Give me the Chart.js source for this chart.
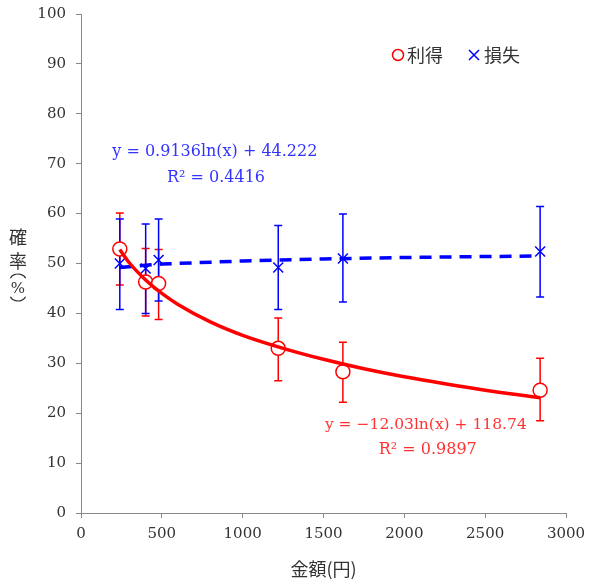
<!DOCTYPE html>
<html><head><meta charset="utf-8">
<script src="https://cdn.jsdelivr.net/npm/chart.js@4/dist/chart.umd.min.js"></script>
<style>html,body{margin:0;padding:0;background:#fff}#wrap{width:594px;height:583px}</style>
</head><body><div id="wrap"><canvas id="c" width="594" height="583"></canvas></div>
<script>
// ---- data ----
const amounts    = [240, 400, 480, 1220, 1620, 2840];
const gainRate   = [52.9, 46.3, 46.0, 33.0, 28.3, 24.6];
const gainUpper  = [60.1, 53.0, 52.8, 39.1, 34.2, 31.0];
const gainLower  = [45.7, 39.5, 38.8, 26.5, 22.2, 18.5];
const lossRate   = [50.0, 49.0, 50.7, 49.2, 51.0, 52.4];
const lossUpper  = [58.9, 57.9, 58.9, 57.6, 59.9, 61.4];
const lossLower  = [40.8, 40.0, 42.5, 40.8, 42.3, 43.3];

const gainTrendX = [240, 300, 400, 500, 600, 800, 1000, 1250, 1500, 1750, 2000, 2250, 2500, 2840];
const gainTrendY = [52.8, 50.1, 46.7, 44.0, 41.8, 38.3, 35.6, 33.0, 30.8, 28.9, 27.3, 25.9, 24.6, 23.1];
const lossTrendX = [240, 500, 1000, 1500, 2000, 2500, 2840];
const lossTrendY = [49.2, 49.9, 50.5, 50.9, 51.2, 51.4, 51.5];

const seriesNames = ['利得', '損失'];
const gainEquation = ['y = −12.03ln(x) + 118.74', 'R² = 0.9897'];
const lossEquation = ['y = 0.9136ln(x) + 44.222', 'R² = 0.4416'];
const xTitle = '金額(円)';
const yTitleChars = ['確', '率', '%'];
const xTicks = [0, 500, 1000, 1500, 2000, 2500, 3000];
const yTicks = [0, 10, 20, 30, 40, 50, 60, 70, 80, 90, 100];

const RED = '#ff0000', BLUE = '#0000ff';
const SERIF = '"DejaVu Serif", "Liberation Serif", serif';
const CJK = '"Noto Sans CJK JP", sans-serif';

const pts = (xs, ys) => xs.map((x, i) => ({x, y: ys[i]}));

const extras = {
  id: 'extras',
  beforeDatasetsDraw(chart) {
    const {ctx, scales: {x, y}} = chart;
    const bars = [[gainUpper, gainLower, RED], [lossUpper, lossLower, BLUE]];
    ctx.save();
    ctx.lineWidth = 1.5;
    bars.forEach(([up, lo, col]) => {
      ctx.strokeStyle = col;
      amounts.forEach((a, i) => {
        const px = x.getPixelForValue(a);
        const pu = y.getPixelForValue(up[i]);
        const pl = y.getPixelForValue(lo[i]);
        ctx.beginPath();
        ctx.moveTo(px, pu); ctx.lineTo(px, pl);
        ctx.moveTo(px - 4, pu); ctx.lineTo(px + 4, pu);
        ctx.moveTo(px - 4, pl); ctx.lineTo(px + 4, pl);
        ctx.stroke();
      });
    });
    ctx.restore();
  },
  afterDraw(chart) {
    const {ctx, scales: {x, y}} = chart;
    ctx.save();
    // equations
    ctx.textAlign = 'center';
    ctx.textBaseline = 'middle';
    ctx.font = '16px ' + SERIF;
    ctx.fillStyle = '#3333ff';
    ctx.fillText(lossEquation[0], x.getPixelForValue(828), y.getPixelForValue(72.3));
    ctx.fillText(lossEquation[1], x.getPixelForValue(835), y.getPixelForValue(67.1));
    ctx.fillStyle = '#ff3333';
    ctx.font = '15.5px ' + SERIF;
    ctx.fillText(gainEquation[0], x.getPixelForValue(2133), y.getPixelForValue(17.6));
    ctx.font = '16px ' + SERIF;
    ctx.fillText(gainEquation[1], x.getPixelForValue(2145), y.getPixelForValue(12.6));
    // legend
    const ly = 55;
    ctx.lineWidth = 1.5;
    ctx.strokeStyle = RED;
    ctx.beginPath(); ctx.arc(398, ly, 5.5, 0, Math.PI * 2); ctx.stroke();
    ctx.strokeStyle = BLUE;
    ctx.beginPath();
    ctx.moveTo(469, ly - 5); ctx.lineTo(479, ly + 5);
    ctx.moveTo(479, ly - 5); ctx.lineTo(469, ly + 5);
    ctx.stroke();
    ctx.fillStyle = '#333';
    ctx.font = '18px ' + CJK;
    ctx.textAlign = 'left';
    ctx.fillText(seriesNames[0], 407, ly);
    ctx.fillText(seriesNames[1], 484, ly);
    // y title (vertical)
    ctx.textAlign = 'center';
    ctx.font = '18px ' + CJK;
    ctx.fillText(yTitleChars[0], 18, 237);
    ctx.fillText(yTitleChars[1], 18, 261);
    ctx.font = '15px ' + SERIF;
    ctx.fillText(yTitleChars[2], 18, 289);
    ctx.strokeStyle = '#333';
    ctx.lineWidth = 1.2;
    ctx.beginPath(); ctx.ellipse(18, 280, 8, 6, 0, Math.PI * 1.1, Math.PI * 1.9); ctx.stroke();
    ctx.beginPath(); ctx.ellipse(18, 295, 8, 6, 0, Math.PI * 0.1, Math.PI * 0.9); ctx.stroke();
    ctx.restore();
  }
};

new Chart(document.getElementById('c'), {
  type: 'scatter',
  data: {
    datasets: [
      {label: seriesNames[0] + ' trend', data: pts(gainTrendX, gainTrendY), showLine: true,
       borderColor: RED, borderWidth: 3.5, pointRadius: 0, cubicInterpolationMode: 'monotone', order: 0},
      {label: seriesNames[1] + ' trend', data: pts(lossTrendX, lossTrendY), showLine: true,
       borderColor: BLUE, borderWidth: 3.5, borderDash: [12, 8], pointRadius: 0, order: 0},
      {label: seriesNames[0], data: pts(amounts, gainRate), pointStyle: 'circle', pointRadius: 7,
       borderColor: RED, backgroundColor: '#fff', pointBorderWidth: 1.5, order: 1},
      {label: seriesNames[1], data: pts(amounts, lossRate), pointStyle: 'crossRot', pointRadius: 7,
       borderColor: BLUE, pointBorderWidth: 1.5, order: 1}
    ]
  },
  options: {
    responsive: false,
    animation: false,
    devicePixelRatio: 1,
    layout: {padding: {top: 14, right: 28, left: 0, bottom: 0}},
    plugins: {legend: {display: false}, tooltip: {enabled: false}},
    scales: {
      x: {
        type: 'linear', min: 0, max: 3000,
        afterBuildTicks: s => { s.ticks = xTicks.map(v => ({value: v})); },
        afterFit: s => { s.height = 70; },
        grid: {drawOnChartArea: false, drawTicks: true, tickLength: 5, color: '#888'},
        border: {color: '#888', width: 1},
        ticks: {color: '#333', font: {family: SERIF, size: 15}, padding: 7, maxRotation: 0, callback: v => String(v)},
        title: {display: true, text: xTitle, color: '#333', font: {family: CJK, size: 18}, padding: {top: 4, bottom: 3}}
      },
      y: {
        type: 'linear', min: 0, max: 100,
        afterBuildTicks: s => { s.ticks = yTicks.map(v => ({value: v})); },
        afterFit: s => { s.width = 81; s.paddingTop = 0; s.paddingBottom = 0; },
        grid: {drawOnChartArea: false, drawTicks: true, tickLength: 5, color: '#888'},
        border: {color: '#888', width: 1},
        ticks: {color: '#333', font: {family: SERIF, size: 15}, padding: 10, callback: v => String(v)}
      }
    }
  },
  plugins: [extras]
});
</script></body></html>
